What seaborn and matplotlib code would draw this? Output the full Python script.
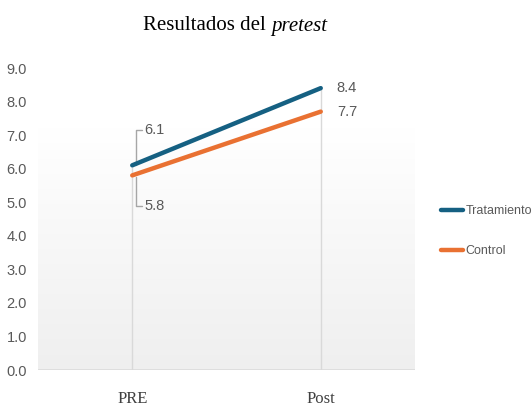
import matplotlib
matplotlib.use("Agg")
import matplotlib.pyplot as plt
import seaborn as sns
import pandas as pd
import numpy as np

# data
momentos = ["PRE", "Post"]
tratamiento = [6.1, 8.4]
control = [5.8, 7.7]
grupos = ["Tratamiento", "Control"]
colores = ["#156082", "#E97132"]
yticks = [0.0, 1.0, 2.0, 3.0, 4.0, 5.0, 6.0, 7.0, 8.0, 9.0]

df = pd.DataFrame({
    "Momento": momentos * 2,
    "Valor": tratamiento + control,
    "Grupo": [grupos[0]] * 2 + [grupos[1]] * 2,
})

sns.set_style("white")
narrow = ["Liberation Sans", "DejaVu Sans"]
serif = ["Liberation Serif", "DejaVu Serif"]
gris = "#595959"

fig = plt.figure(figsize=(5.32, 4.07), dpi=100)
ax = fig.add_axes([38 / 532, 37 / 407, 377 / 532, 302 / 407])

ax.set_xlim(-0.5, 1.5)
ax.set_ylim(0, 9)

# soft gradient background (white on top, light gray at the bottom)
grad = np.linspace(0, 1, 256).reshape(-1, 1)
cmap = matplotlib.colors.LinearSegmentedColormap.from_list("bg", ["#EFEFEF", "#FFFFFF"])
ax.imshow(grad, extent=(-0.5, 1.5, 0, 7.2), origin="lower", aspect="auto",
          cmap=cmap, zorder=0)

# drop lines
maximos = [max(t, c) for t, c in zip(tratamiento, control)]
ax.vlines(range(len(momentos)), 0, maximos, color="#D9D9D9", lw=1, zorder=1)
ax.axhline(0, color="#D9D9D9", lw=1.8, zorder=1)

sns.lineplot(data=df, x="Momento", y="Valor", hue="Grupo", hue_order=grupos,
             palette=colores, lw=3.2, ax=ax, zorder=3, sort=False)

# data labels
ax.plot([0.02, 0.02, 0.05], [6.1, 7.15, 7.15], color="#A6A6A6", lw=1, zorder=2)
ax.text(0.063, 7.15, "6.1", family=narrow, fontsize=10.5, color=gris, va="center")
ax.plot([0.02, 0.02, 0.05], [5.75, 4.9, 4.9], color="#A6A6A6", lw=1, zorder=2)
ax.text(0.063, 4.9, "5.8", family=narrow, fontsize=10.5, color=gris, va="center")
ax.text(1.085, tratamiento[1], "8.4", family=narrow, fontsize=10.5, color=gris, va="center")
ax.text(1.085, control[1], "7.7", family=narrow, fontsize=10.5, color=gris, va="center")

ax.set_yticks(yticks)
ax.set_yticklabels([f"{v:.1f}" for v in yticks], family=narrow, fontsize=10.5, color=gris)
ax.set_xticks(range(len(momentos)))
ax.set_xticklabels(momentos, family=serif, fontsize=12, color="#404040")
ax.tick_params(axis="y", length=0, pad=8)
ax.tick_params(axis="x", length=0, pad=15)
ax.set_xlabel("")
ax.set_ylabel("")
sns.despine(ax=ax, left=True, bottom=True)

leg = ax.legend(loc="center left", bbox_to_anchor=((441 - 38) / 377, 0.459), frameon=False,
                prop={"family": narrow, "size": 9}, handlelength=1.8,
                handletextpad=0.15, labelspacing=2.25, borderaxespad=0,
                borderpad=0)
for t in leg.get_texts():
    t.set_color(gris)
for l in leg.get_lines():
    l.set_linewidth(3.2)

fig.text(271 / 532, 1 - 26 / 407, "Resultados del ", family=serif, fontsize=15,
         ha="right", va="center", color="black")
fig.text(271 / 532, 1 - 26 / 407, "pretest", family=serif, fontsize=15,
         style="italic", ha="left", va="center", color="black")

fig.savefig("out.png", dpi=100)
plt.close()
